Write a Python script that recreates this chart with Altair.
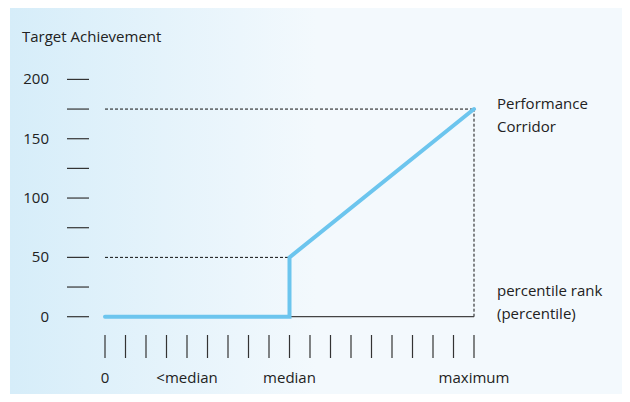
import altair as alt
import pandas as pd

# ---- data ----
x_ticks = list(range(19))
y_ticks = [0, 25, 50, 75, 100, 125, 150, 175, 200]
y_label_vals = [0, 50, 100, 150, 200]
x_label_pos = [0, 4, 9, 18]
x_label_text = ["0", "<median", "median", "maximum"]
line_x = [0, 9, 9, 18]
line_y = [0, 0, 50, 175]
ann_top = ["Performance", "Corridor"]
ann_bottom = ["percentile rank", "(percentile)"]
y_title = "Target Achievement"

FONT = "Open Sans"
FS = 15
TXT = "#222222"

W, H = 614, 386
xs = alt.Scale(domain=[0, 18], range=[97, 466])
ys = alt.Scale(domain=[0, 200], range=[308.7, 71.4])

bg = alt.Chart(pd.DataFrame({"a": [0]})).mark_rect(
    color=alt.Gradient(
        gradient="linear", x1=0, x2=1, y1=0, y2=0,
        stops=[alt.GradientStop(color="#d6edf9", offset=0),
               alt.GradientStop(color="#f3f9fd", offset=0.5),
               alt.GradientStop(color="#f3f9fd", offset=1)]
    )
).encode(x=alt.value(2), x2=alt.value(W), y=alt.value(0), y2=alt.value(H))

line_df = pd.DataFrame({"x": line_x, "y": line_y, "o": range(4)})
blue = alt.Chart(line_df).mark_line(color="#6cc5ee", strokeWidth=4, strokeCap="round", strokeJoin="miter").encode(
    x=alt.X("x:Q", scale=xs, axis=None),
    y=alt.Y("y:Q", scale=ys, axis=None),
    order="o:Q",
)

base_df = pd.DataFrame({"x": [0], "x2": [18], "y": [0]})
baseline = alt.Chart(base_df).mark_rule(color="#444444", strokeWidth=1.2).encode(
    x=alt.X("x:Q", scale=xs, axis=None), x2="x2:Q", y=alt.Y("y:Q", scale=ys, axis=None)
)

hd_df = pd.DataFrame({"x": [0, 0], "x2": [line_x[3], line_x[1]], "y": [line_y[3], line_y[2]]})
hdash = alt.Chart(hd_df).mark_rule(color="#111111", strokeWidth=1, strokeDash=[3, 2]).encode(
    x=alt.X("x:Q", scale=xs, axis=None), x2="x2:Q", y=alt.Y("y:Q", scale=ys, axis=None)
)
vd_df = pd.DataFrame({"x": [line_x[3]], "y": [0], "y2": [line_y[3]]})
vdash = alt.Chart(vd_df).mark_rule(color="#111111", strokeWidth=1, strokeDash=[3, 2]).encode(
    x=alt.X("x:Q", scale=xs, axis=None), y=alt.Y("y:Q", scale=ys, axis=None), y2="y2:Q"
)

yt_df = pd.DataFrame({"y": y_ticks})
ytick = alt.Chart(yt_df).mark_rule(color="#333333", strokeWidth=1.2).encode(
    y=alt.Y("y:Q", scale=ys, axis=None), x=alt.value(59), x2=alt.value(81)
)
yl_df = pd.DataFrame({"y": y_label_vals})
ylab = alt.Chart(yl_df).mark_text(font=FONT, fontSize=FS, color=TXT, align="right", baseline="middle").encode(
    y=alt.Y("y:Q", scale=ys, axis=None), x=alt.value(41), text="y:Q"
)

xt_df = pd.DataFrame({"x": x_ticks})
xtick = alt.Chart(xt_df).mark_rule(color="#333333", strokeWidth=1.2).encode(
    x=alt.X("x:Q", scale=xs, axis=None), y=alt.value(327), y2=alt.value(350)
)
xl_df = pd.DataFrame({"x": x_label_pos, "t": x_label_text})
xlab = alt.Chart(xl_df).mark_text(font=FONT, fontSize=FS, color=TXT, align="center", baseline="middle").encode(
    x=alt.X("x:Q", scale=xs, axis=None), y=alt.value(370), text="t:N"
)

ann1 = alt.Chart(pd.DataFrame({"x": [line_x[3]], "y": [line_y[3]], "t": [ann_top]})).mark_text(
    font=FONT, fontSize=FS, color=TXT, align="left", baseline="middle", dx=23, dy=-5, lineHeight=23
).encode(x=alt.X("x:Q", scale=xs, axis=None), y=alt.Y("y:Q", scale=ys, axis=None), text="t")

ann2 = alt.Chart(pd.DataFrame({"x": [line_x[3]], "y": [0], "t": [ann_bottom]})).mark_text(
    font=FONT, fontSize=FS, color=TXT, align="left", baseline="middle", dx=23, dy=-26, lineHeight=23
).encode(x=alt.X("x:Q", scale=xs, axis=None), y=alt.Y("y:Q", scale=ys, axis=None), text="t")

title = alt.Chart(pd.DataFrame({"t": [y_title]})).mark_text(
    font=FONT, fontSize=FS, color=TXT, align="left", baseline="middle"
).encode(x=alt.value(14), y=alt.value(29), text="t:N")

chart = alt.layer(bg, hdash, vdash, baseline, blue, ytick, ylab, xtick, xlab, ann1, ann2, title).properties(
    width=W, height=H, autosize=alt.AutoSizeParams(type="none"), padding=0, background="white"
).configure_view(stroke=None)

chart.save("out.html", embed_options={"renderer": "svg", "actions": False})
